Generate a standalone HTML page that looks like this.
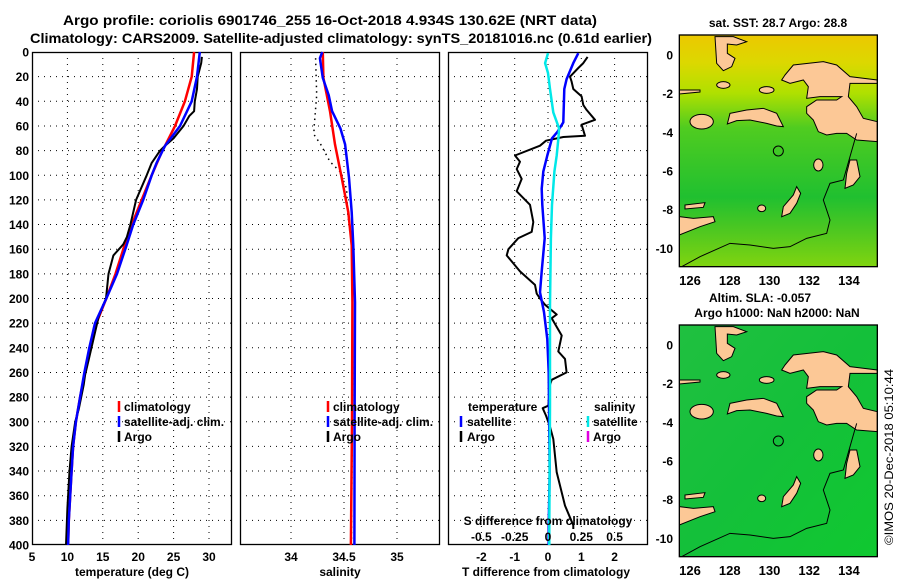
<!DOCTYPE html>
<html><head><meta charset="utf-8"><style>
html,body{margin:0;padding:0;background:#fff;}
svg{display:block;font-family:"Liberation Sans",Arial,sans-serif;font-weight:bold;}
</style></head><body>
<svg id="chart" width="900" height="580" viewBox="0 0 900 580" xmlns="http://www.w3.org/2000/svg">
<defs>
<linearGradient id="sstGrad" x1="0" y1="0" x2="0" y2="1">
<stop offset="0" stop-color="#ecc800"/><stop offset="0.12" stop-color="#dcd800"/><stop offset="0.25" stop-color="#b0e000"/><stop offset="0.4" stop-color="#50cc20"/><stop offset="0.7" stop-color="#20c030"/><stop offset="0.85" stop-color="#50c820"/><stop offset="1" stop-color="#80d410"/>
</linearGradient>
<linearGradient id="slaGrad" x1="0" y1="0" x2="1" y2="1">
<stop offset="0" stop-color="#20c040"/><stop offset="0.5" stop-color="#14c03a"/><stop offset="1" stop-color="#10c830"/>
</linearGradient>
<clipPath id="mapClip"><rect x="88" y="105" width="594" height="695"/></clipPath>
</defs>
<text x="330" y="25" text-anchor="middle" font-size="14" textLength="534" lengthAdjust="spacingAndGlyphs">Argo profile: coriolis 6901746_255 16-Oct-2018 4.934S 130.62E (NRT data)</text>
<text x="341" y="43" text-anchor="middle" font-size="14" textLength="622" lengthAdjust="spacingAndGlyphs">Climatology: CARS2009. Satellite-adjusted climatology: synTS_20181016.nc (0.61d earlier)</text>
<g id="panels"></g>
<g id="maps"></g>
<text transform="translate(893,545) rotate(-90)" font-size="12" font-weight="normal" textLength="176" lengthAdjust="spacingAndGlyphs">©IMOS 20-Dec-2018 05:10:44</text>
</svg>
<script>
// ---- data ----
const pTicks = [0,20,40,60,80,100,120,140,160,180,200,220,240,260,280,300,320,340,360,380,400];
const tempTicks = [5,10,15,20,25,30];
const salTicks = [34,34.5,35];
const tdiffTicks = [-2,-1,0,1,2];
const sdiffTicks = [-0.5,-0.25,0,0.25,0.5];
const latTicks = [0,-2,-4,-6,-8,-10];
const lonTicks = [126,128,130,132,134];

const climTP = [0,20,40,60,76,80,100,120,140,160,180,200,220,240,260,280,300,320,340,360,380,400];
const climT  = [27.9,27.55,26.6,25.2,23.8,23.4,21.9,20.5,19.1,17.9,16.8,15.5,14.1,13.2,12.5,11.8,11.2,10.8,10.6,10.4,10.2,10.1];
const satTP  = [0,20,40,60,76,90,100,120,140,156,180,200,220,240,260,280,300,320,340,360,380,400];
const satT   = [28.7,28.3,27.55,25.9,23.8,22.6,21.9,20.7,19.3,18.4,17.0,15.5,13.9,13.1,12.4,11.8,11.2,10.8,10.6,10.4,10.2,10.1];
const argoTP = [4,9,20,30,40,48,52,60,70,76,80,90,100,120,140,150,156,165,180,200,215,230,250,262,270,290,300,320,340,370,400];
const argoT  = [29.0,28.9,28.4,28.3,28.0,27.9,27.2,26.4,25.0,23.8,23.1,21.9,21.2,19.7,18.9,18.4,17.9,16.5,15.8,15.45,14.4,13.8,13.0,12.5,12.3,11.6,11.1,10.6,10.3,10.0,9.8];

const climSP = [0,21,48,75,102,130,157,203,300,400];
const climS  = [34.30,34.306,34.368,34.415,34.478,34.541,34.573,34.579,34.575,34.565];
const satSP  = [0,5,21,35,48,62,75,102,130,157,203,300,400];
const satS   = [34.295,34.273,34.30,34.356,34.388,34.466,34.51,34.547,34.573,34.588,34.604,34.60,34.598];
const argoSP = [5,35,62,67,75,89,97,111,130,146,162,200,300,400];
const argoS  = [34.232,34.242,34.217,34.217,34.28,34.368,34.462,34.525,34.534,34.556,34.581,34.58,34.578,34.57];

const dTsatP = [1,9,22,30,57,65,70,84,97,111,124,151,178,195,211,233,260,287,341,384,400];
const dTsat  = [0.91,0.76,0.56,0.49,0.46,0.28,0.12,-0.02,-0.14,-0.19,-0.17,-0.1,-0.19,-0.24,-0.12,-0.02,0.02,0.03,0.05,0.02,0.02];
const dSsatP = [1,9,17,30,49,62,70,84,97,124,151,205,287,384,400];
const dSsat  = [0.0,-0.022,0.0,0.015,0.04,0.083,0.078,0.065,0.048,0.03,0.022,0.015,0.015,0.01,0.01];
const dTargoP = [4,9,13,20,24,30,36,43,47,55,59,68,69,72,76,84,89,95,103,113,124,138,146,151,160,165,178,189,196,200,205,213,216,230,243,249,260,266,270,287,289,295,304,314,341,368,384,387];
const dTargo  = [1.19,1.06,0.91,0.66,0.71,0.76,1.01,1.06,1.16,1.41,1.01,1.11,0.46,-0.06,-0.24,-0.99,-0.84,-0.94,-0.79,-0.94,-0.54,-0.44,-0.49,-0.89,-1.19,-1.24,-0.84,-0.39,-0.34,-0.24,-0.09,0.26,0.11,0.41,0.31,0.51,0.56,0.11,0.06,0.01,-0.16,-0.06,0.06,0.16,0.26,0.51,0.76,0.76];

// ---- helpers ----
const NS='http://www.w3.org/2000/svg';
const panels=document.getElementById('panels');
const maps=document.getElementById('maps');
function mk(tag,attrs,parent){const e=document.createElementNS(NS,tag);for(const k in attrs)e.setAttribute(k,attrs[k]);parent.appendChild(e);return e;}
const TOP=52,BOT=545;
const yP=p=>TOP+p*(BOT-TOP)/400;
const xTemp=t=>32+(t-5)*7.08;
const xSal=s=>344+(s-34.5)*106;
const xDT=d=>548+d*33.3;
const xDS=d=>548+d*133.2;

function frame(x0,x1,name,xticks,xf){
  const g=mk('g',{},panels);
  
  
  pTicks.forEach(p=>{ if(p>0&&p<400){const l=mk('line',{x1:x0,x2:x1,y1:yP(p),y2:yP(p),stroke:'#000','stroke-width':1,'stroke-dasharray':'1,5'},g);
    
    }});
  xticks.forEach(v=>{const x=xf(v); if(x>x0+1&&x<x1-1){const l=mk('line',{x1:x,x2:x,y1:TOP,y2:BOT,stroke:'#000','stroke-width':1,'stroke-dasharray':'1,5'},g);
    
    }});
  const r=mk('rect',{x:x0+0.5,y:TOP+0.5,width:x1-x0-1,height:BOT-TOP-1,fill:'none',stroke:'#000','stroke-width':1.3},g);
  
  
  return g;
}
function line(g,xs,ps,xf,color,w,name,dash){
  const d=xs.map((v,i)=>(i?'L':'M')+xf(v).toFixed(1)+','+yP(ps[i]).toFixed(1)).join('');
  const a={d:d,fill:'none',stroke:color,'stroke-width':w,'stroke-linejoin':'round'};
  if(dash)a['stroke-dasharray']=dash;
  const e=mk('path',a,g);
  
  
}
function txt(g,x,y,s,name,anchor,size){
  const t=mk('text',{x:x,y:y,'text-anchor':anchor||'start','font-size':size||12},g);
  t.textContent=s;
  
  
  return t;
}
function legendMark(g,x,y,color,name){
  const l=mk('line',{x1:x,x2:x,y1:y-10,y2:y+1,stroke:color,'stroke-width':2.5},g);
  
  
}

// ---- panel 1: temperature ----
const g1=frame(32,232,'temperature-panel',tempTicks,xTemp);
line(g1,climT,climTP,xTemp,'#ff0000',2.5,'climatology-temp-line');
line(g1,argoT,argoTP,xTemp,'#000',2,'argo-temp-line');
line(g1,satT,satTP,xTemp,'#0000ff',2.5,'satellite-temp-line');
pTicks.forEach(p=>txt(g1,29,yP(p)+4.5,String(p),'y-tick-label','end'));
tempTicks.forEach(v=>txt(g1,xTemp(v),561,String(v),'x-tick-label','middle'));
txt(g1,132,576,'temperature (deg C)','x-axis-title','middle');
legendMark(g1,119,411,'#ff0000','legend-climatology-marker');txt(g1,124,411,'climatology','legend-climatology');
legendMark(g1,119,426,'#0000ff','legend-satellite-marker');txt(g1,124,426,'satellite-adj. clim.','legend-satellite');
legendMark(g1,119,441,'#000','legend-argo-marker');txt(g1,124,441,'Argo','legend-argo');

// ---- panel 2: salinity ----
const g2=frame(240,440,'salinity-panel',salTicks,xSal);
line(g2,argoS,argoSP,xSal,'#000',1.5,'argo-salinity-dotted','1.5,4');
line(g2,climS,climSP,xSal,'#ff0000',2.5,'climatology-salinity-line');
line(g2,satS,satSP,xSal,'#0000ff',2.5,'satellite-salinity-line');
salTicks.forEach(v=>txt(g2,xSal(v),561,String(v),'x-tick-label','middle'));
txt(g2,340,576,'salinity','x-axis-title','middle');
legendMark(g2,328,411,'#ff0000','legend-climatology-marker');txt(g2,333,411,'climatology','legend-climatology');
legendMark(g2,328,426,'#0000ff','legend-satellite-marker');txt(g2,333,426,'satellite-adj. clim.','legend-satellite');
legendMark(g2,328,441,'#000','legend-argo-marker');txt(g2,333,441,'Argo','legend-argo');

// ---- panel 3: differences ----
const g3=frame(448,648,'difference-panel',tdiffTicks,xDT);
line(g3,dTargo,dTargoP,xDT,'#000',2,'argo-temp-diff-line');
line(g3,dTsat,dTsatP,xDT,'#0000ff',2.5,'satellite-temp-diff-line');
line(g3,dSsat,dSsatP,xDS,'#00e8e8',2.5,'satellite-salinity-diff-line');
tdiffTicks.forEach(v=>txt(g3,xDT(v),561,String(v),'x-tick-label','middle'));
sdiffTicks.forEach(v=>txt(g3,xDS(v),541,String(v),'s-tick-label','middle'));
txt(g3,548,525,'S difference from climatology','s-axis-title','middle');
txt(g3,546,576,'T difference from climatology','x-axis-title','middle');
txt(g3,468,411,'temperature','legend-temperature-heading');
legendMark(g3,461,426,'#0000ff','legend-temp-satellite-marker');txt(g3,467,426,'satellite','legend-temp-satellite');
legendMark(g3,461,441,'#000','legend-temp-argo-marker');txt(g3,467,441,'Argo','legend-temp-argo');
txt(g3,594,411,'salinity','legend-salinity-heading');
legendMark(g3,588,426,'#00e8e8','legend-sal-satellite-marker');txt(g3,593,426,'satellite','legend-sal-satellite');
legendMark(g3,588,441,'#e000e0','legend-sal-argo-marker');txt(g3,593,441,'Argo','legend-sal-argo');

// ---- maps (drawn in 3x zoom coords, scaled 1/3) ----
const landPolys=[
 [[405,225],[430,195],[520,185],[560,195],[600,230],[682,240],[682,250],[600,250],[595,290],[620,320],[640,355],[682,365],[682,425],[620,420],[590,400],[560,400],[530,405],[505,395],[490,360],[470,340],[470,320],[500,300],[560,300],[575,290],[510,290],[470,295],[475,260],[460,240],[420,250],[395,240]],
 [[240,340],[290,330],[340,325],[380,340],[400,380],[380,378],[350,370],[300,360],[260,362],[232,372]],
 [[195,110],[250,110],[290,125],[260,135],[232,132],[232,160],[255,175],[245,200],[220,212],[200,190]],
 [[440,560],[452,580],[440,610],[420,640],[395,650],[400,620],[430,585]],
 [[600,480],[620,480],[630,530],[610,555],[585,565],[590,520]],
 [[88,650],[130,655],[190,650],[195,665],[150,680],[88,705]],
 [[105,615],[165,608],[160,622],[105,627]],
 [[88,270],[150,270],[150,276],[88,282]]
];
const landEllipses=[[155,365,35,22],[220,255,20,10],[350,270,22,10],[505,495,14,18],[335,625,12,10]];
const contour=[[95,800],[150,770],[240,730],[300,735],[370,745],[420,740],[470,715],[530,700],[540,660],[520,600],[540,550],[580,540],[600,470],[620,400]];
function drawMap(offY,fill,name){
  const g=mk('g',{transform:'translate(650,'+offY+') scale(0.33333)'},maps);
  
  
  const c=mk('g',{'clip-path':'url(#mapClip)'},g);
  const bg=mk('rect',{x:88,y:105,width:594,height:695,fill:fill},c);
  
  
  landPolys.forEach(pl=>{const e=mk('polygon',{points:pl.map(q=>q.join(',')).join(' '),fill:'#fcc896',stroke:'#000','stroke-width':3},c);
    
    });
  landEllipses.forEach(el=>{const e=mk('ellipse',{cx:el[0],cy:el[1],rx:el[2],ry:el[3],fill:'#fcc896',stroke:'#000','stroke-width':3},c);
    
    });
  const ct=mk('path',{d:contour.map((q,i)=>(i?'L':'M')+q.join(',')).join(''),fill:'none',stroke:'#000','stroke-width':3},c);
  
  
  const ci=mk('circle',{cx:385,cy:453,r:15,fill:'none',stroke:'#000','stroke-width':3},c);
  
  
  const fr=mk('rect',{x:88,y:105,width:594,height:695,fill:'none',stroke:'#000','stroke-width':4},g);
  
  
  latTicks.forEach(l=>{const y=offY+(165+(-l)*58)/3;
    txt(maps,673,y+4.5,String(l),'lat-tick-label','end');});
  lonTicks.forEach(l=>{const x=650+(120+(l-126)*59.6)/3;
    txt(maps,x,offY+285,String(l),'lon-tick-label','middle',13);});
}
drawMap(0,'url(#sstGrad)','sst-map');
drawMap(290,'url(#slaGrad)','sla-map');
txt(maps,778,27,'sat. SST: 28.7 Argo: 28.8','sst-map-title','middle');
txt(maps,760,302,'Altim. SLA: -0.057','sla-map-title','middle');
txt(maps,777,317,'Argo h1000: NaN h2000: NaN','sla-map-subtitle','middle');
</script>
</body></html>
